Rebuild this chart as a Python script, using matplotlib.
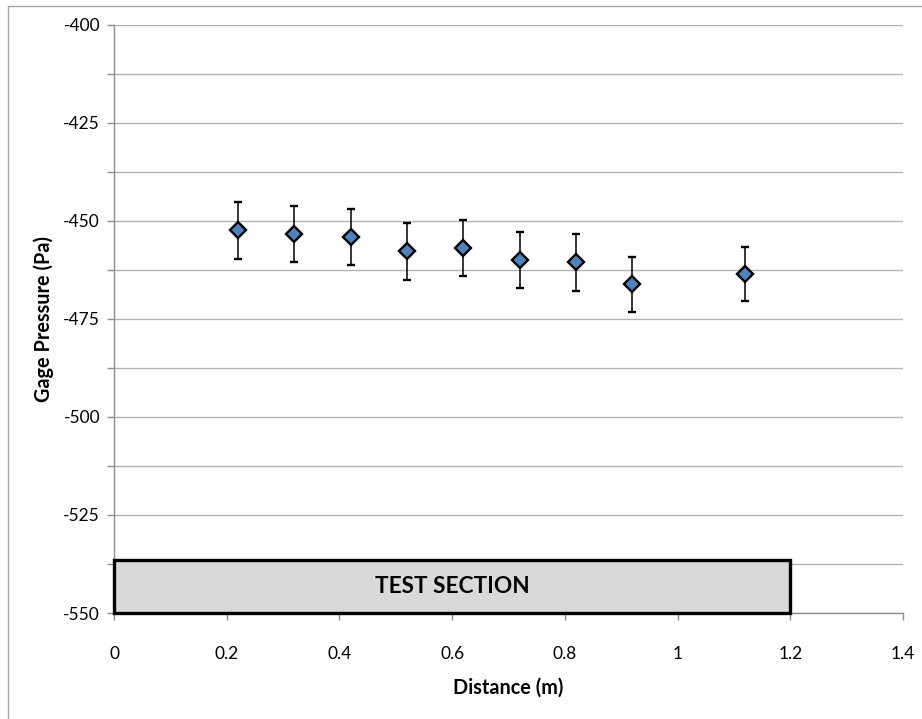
import matplotlib
matplotlib.use("Agg")
import matplotlib.pyplot as plt
from matplotlib.patches import Rectangle
from matplotlib.lines import Line2D
from matplotlib.ticker import MultipleLocator

plt.rcParams['font.family'] = ['Lato', 'DejaVu Sans']
plt.rcParams['axes.unicode_minus'] = False

# Pressure taps along the duct
distance = [0.22, 0.32, 0.42, 0.52, 0.62, 0.72, 0.82, 0.92, 1.12]
pressure = [-452.5, -453.4, -454.2, -457.8, -457.0, -460.0, -460.6, -466.2, -463.6]
pressure_err = [7.2, 7.2, 7.2, 7.2, 7.2, 7.2, 7.2, 7.0, 7.0]

# Extent of the test section drawn along the bottom of the plot
section_start = 0.0
section_end = 1.2
section_bottom = -550.0
section_top = -536.5
section_label = "TEST SECTION"

x_ticks = [0, 0.2, 0.4, 0.6, 0.8, 1, 1.2, 1.4]
x_tick_labels = ["0", "0.2", "0.4", "0.6", "0.8", "1", "1.2", "1.4"]
y_ticks = [-550, -525, -500, -475, -450, -425, -400]

W, H = 922, 719
fig = plt.figure(figsize=(W / 100, H / 100), dpi=100)
ax = fig.add_axes([114 / W, (H - 613) / H, (903 - 114) / W, (613 - 24.5) / H])

grid_c = '#B3B3B3'
axis_c = '#8C8C8C'

ax.set_xlim(0, 1.4)
ax.set_ylim(-550, -400)
ax.set_xticks(x_ticks)
ax.set_xticklabels(x_tick_labels)
ax.set_yticks(y_ticks)
ax.yaxis.set_minor_locator(MultipleLocator(12.5))
ax.yaxis.grid(True, which='both', color=grid_c, linewidth=1.0)
ax.set_axisbelow(True)

for side in ['top', 'right']:
    ax.spines[side].set_visible(False)
for side in ['left', 'bottom']:
    ax.spines[side].set_color(axis_c)
    ax.spines[side].set_linewidth(1.0)

ax.tick_params(axis='both', which='both', direction='out', color=axis_c,
               length=5, width=1.0, labelsize=12.5, labelcolor='black')
ax.tick_params(axis='x', pad=19)
ax.tick_params(axis='y', pad=5)

ax.errorbar(distance, pressure, yerr=pressure_err, fmt='D',
            markersize=8.3, markerfacecolor='#4F81BD', markeredgecolor='black',
            markeredgewidth=1.7, ecolor='black', elinewidth=1.1, capsize=3.2,
            capthick=1.1, zorder=4)

ax.add_patch(Rectangle((section_start, section_bottom), section_end - section_start,
                       section_top - section_bottom, facecolor='#D9D9D9',
                       edgecolor='black', linewidth=2.4, zorder=3, clip_on=False))
ax.text((section_start + section_end) / 2, (section_bottom + section_top) / 2,
        section_label, ha='center', va='center', fontsize=16.3,
        fontweight='bold', zorder=5)

ax.set_xlabel("Distance (m)", fontsize=14.3, fontweight='bold', labelpad=11)
ax.set_ylabel("Gage Pressure (Pa)", fontsize=14.3, fontweight='bold', labelpad=7)

# Chart-area frame
fig.add_artist(Line2D([8 / W, 1], [(H - 6) / H, (H - 6) / H],
                      transform=fig.transFigure, color='#A6A6A6', linewidth=1.0))
fig.add_artist(Line2D([8 / W, 8 / W], [0, (H - 6) / H],
                      transform=fig.transFigure, color='#A6A6A6', linewidth=1.0))

fig.savefig("out.png", dpi=100)
